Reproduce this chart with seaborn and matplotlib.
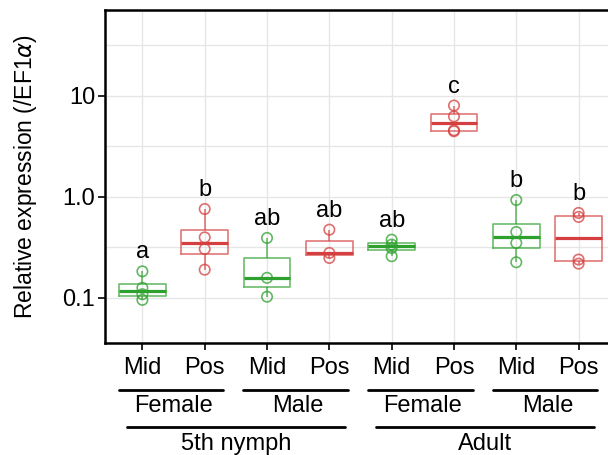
import numpy as np
import pandas as pd
import seaborn as sns
import matplotlib.pyplot as plt
import matplotlib.ticker as mticker

# Valores (expresión relativa /EF1a)
groups = ['N_F_Mid', 'N_F_Pos', 'N_M_Mid', 'N_M_Pos',
          'A_F_Mid', 'A_F_Pos', 'A_M_Mid', 'A_M_Pos']
parts = ['Mid', 'Pos', 'Mid', 'Pos', 'Mid', 'Pos', 'Mid', 'Pos']
values = [
    [0.182, 0.125, 0.108, 0.095],
    [0.755, 0.395, 0.303, 0.189],
    [0.39, 0.157, 0.102],
    [0.471, 0.277, 0.247],
    [0.375, 0.335, 0.31, 0.257],
    [8.0, 6.24, 4.55, 4.45],
    [0.927, 0.447, 0.348, 0.224],
    [0.69, 0.63, 0.238, 0.217],
]
letters = ['a', 'b', 'ab', 'ab', 'ab', 'c', 'b', 'b']
sex_labels = ['Female', 'Male', 'Female', 'Male']
stage_labels = ['5th nymph', 'Adult']

rows = []
for g, p, vals in zip(groups, parts, values):
    for v in vals:
        rows.append({'group': g, 'part': p, 'expr': v})
df = pd.DataFrame(rows)

pal = {'Mid': '#2EA02E', 'Pos': '#D63F3F'}
fs = 17

sns.set_theme(style='whitegrid')
plt.rcParams['font.family'] = ['Liberation Sans', 'DejaVu Sans']

fig = plt.figure(figsize=(6.08, 4.55), dpi=100)
ax = fig.add_axes([105/608, 1-343/455, 511/608, 333/455])

sns.boxplot(data=df, x='group', y='expr', hue='part', order=groups, palette=pal,
            dodge=False, fill=False, width=0.75, showfliers=False, showcaps=False,
            log_scale=True, linewidth=1.2, legend=False,
            boxprops={'alpha': 0.7}, whiskerprops={'alpha': 0.7},
            medianprops={'linewidth': 2.3, 'alpha': 1}, ax=ax)
sns.stripplot(data=df, x='group', y='expr', hue='part', order=groups, palette=pal,
              jitter=False, dodge=False, size=7.5, legend=False, ax=ax)
for coll in ax.collections:
    fc = coll.get_facecolor()
    coll.set_facecolor('none')
    coll.set_edgecolor(fc)
    coll.set_linewidth(1.2)
    coll.set_alpha(0.75)

# Letras de significancia
for i, vals in enumerate(values):
    ax.annotate(letters[i], (i, max(vals)), xytext=(0, 8), textcoords='offset pixels',
                ha='center', va='bottom', fontsize=fs, color='black')

ax.set_xlim(-0.6, 7.6)
ax.set_ylim(10**-1.45, 10**1.85)
ax.yaxis.set_major_locator(mticker.FixedLocator([0.1, 1, 10]))
ax.yaxis.set_major_formatter(mticker.FixedFormatter(['0.1', '1.0', '10']))
ax.yaxis.set_minor_locator(mticker.FixedLocator([10**-0.5, 10**0.5, 10**1.5]))
ax.yaxis.set_minor_formatter(mticker.NullFormatter())
ax.grid(True, which='both', color='#E6E6E6', linewidth=1)
ax.set_axisbelow(True)
ax.set_xticks(range(8))
ax.set_xticklabels(parts)
ax.tick_params(axis='both', which='major', length=5, width=1.2, color='black',
               labelsize=fs, labelcolor='black', pad=2, left=True, bottom=True)
ax.tick_params(axis='y', which='minor', length=0)
ax.tick_params(axis='x', pad=5)
for s in ax.spines.values():
    s.set_color('black')
    s.set_linewidth(1.8)
ax.set_xlabel('')
ax.set_ylabel(r'Relative expression (/EF1$\alpha$)', fontsize=16.5, color='black', labelpad=17)

# Etiquetas jerárquicas debajo del eje x
trans = ax.get_xaxis_transform()
for k, lab in enumerate(sex_labels):
    x0 = 2*k
    ax.plot([x0 - 0.38, x0 + 1.3], [-0.14, -0.14], transform=trans, color='black',
            linewidth=2, clip_on=False)
    ax.text(x0 + 0.5, -0.19, lab, transform=trans, ha='center', va='center',
            fontsize=fs, color='black')
for k, lab in enumerate(stage_labels):
    x0 = 4*k
    ax.plot([x0 - 0.25, x0 + 3.25], [-0.252, -0.252], transform=trans, color='black',
            linewidth=2, clip_on=False)
    ax.text(x0 + 1.5, -0.302, lab, transform=trans, ha='center', va='center',
            fontsize=fs, color='black')

fig.savefig('out.png', dpi=100)
